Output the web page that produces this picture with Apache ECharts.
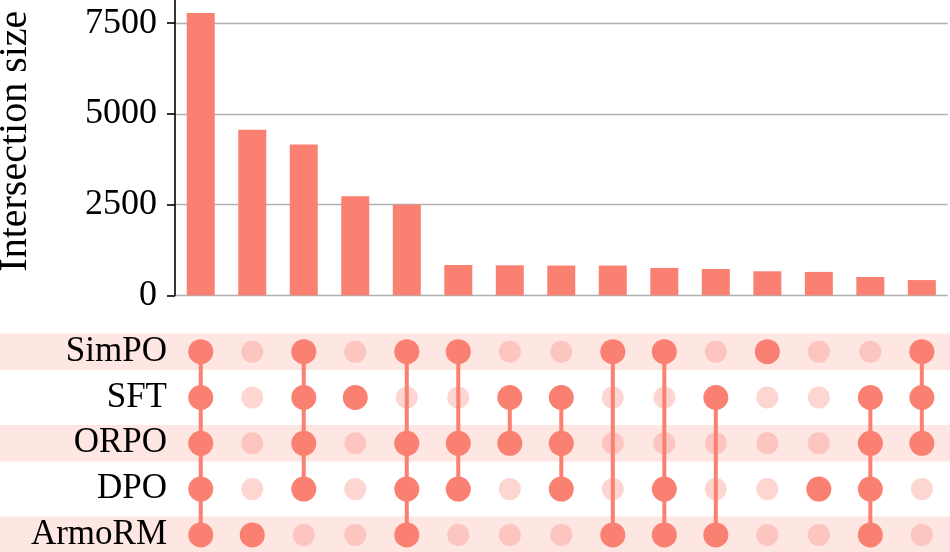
<!DOCTYPE html>
<html>
<head>
<meta charset="utf-8">
<script src="https://cdn.jsdelivr.net/npm/echarts@6/dist/echarts.min.js"></script>
<style>html,body{margin:0;padding:0;background:#fff}#c{width:950px;height:552px}</style>
</head>
<body>
<div id="c"></div>
<script>
// ---- data ----
const setNames = ['SimPO', 'SFT', 'ORPO', 'DPO', 'ArmoRM'];
const intersectionSizes = [7780, 4560, 4160, 2730, 2500, 835, 827, 820, 820, 755, 725, 662, 645, 505, 420];
const simpoMember  = [1,0,1,0,1,1,0,0,1,1,0,1,0,0,1];
const sftMember    = [1,0,1,1,0,0,1,1,0,0,1,0,0,1,1];
const orpoMember   = [1,0,1,0,1,1,1,1,0,0,0,0,0,1,1];
const dpoMember    = [1,0,1,0,1,1,0,1,0,1,0,0,1,1,0];
const armormMember = [1,1,0,0,1,0,0,0,1,1,1,0,0,1,0];
const yTickValues = [0, 2500, 5000, 7500];
const yAxisMax = 8140;

// ---- derived ----
const membership = [simpoMember, sftMember, orpoMember, dpoMember, armormMember];
const categories = intersectionSizes.map((_, i) => membership.map((m, r) => m[i] ? setNames[r] : '').filter(Boolean).join('&'));
const activePts = [], inactivePts = [], spans = [];
categories.forEach((c, i) => {
  let lo = null, hi = null;
  membership.forEach((m, r) => {
    if (m[i]) { activePts.push([c, setNames[r]]); if (lo === null) lo = r; hi = r; }
    else inactivePts.push([c, setNames[r]]);
  });
  spans.push([c, setNames[lo], setNames[hi]]);
});
const bandRows = setNames.filter((_, r) => r % 2 === 0).map(n => [categories[0], n]);

const SALMON = '#FA8072';
const FONT = 'Liberation Serif';
const chart = echarts.init(document.getElementById('c'), null, {renderer: 'canvas'});
chart.setOption({
  animation: false,
  backgroundColor: '#fff',
  grid: [
    {left: 175, right: 2.4, top: 0, height: 295.3, outerBoundsMode: 'none', containLabel: false},
    {left: 175, right: 2.4, top: 328.8, height: 229, outerBoundsMode: 'none', containLabel: false}
  ],
  xAxis: [
    {gridIndex: 0, type: 'category', data: categories, axisLine: {show: false}, axisTick: {show: false}, axisLabel: {show: false}},
    {gridIndex: 1, type: 'category', data: categories, axisLine: {show: false}, axisTick: {show: false}, axisLabel: {show: false}}
  ],
  yAxis: [
    {gridIndex: 0, type: 'value', min: 0, max: yAxisMax, interval: 2500,
     name: 'Intersection size', nameLocation: 'middle', nameRotate: 90, nameGap: 140,
     nameTextStyle: {fontFamily: FONT, fontSize: 40, color: '#000', padding: [0, 0, 0, 13]},
     axisLine: {show: true, lineStyle: {color: '#000', width: 1.6}},
     axisTick: {show: true, length: 8, lineStyle: {color: '#000', width: 1.6}},
     axisLabel: {fontFamily: FONT, fontSize: 36, color: '#000', margin: 18, showMaxLabel: false,
       formatter: v => yTickValues.includes(v) ? String(v) : ''},
     splitLine: {show: true, showMaxLine: false, lineStyle: {color: '#b0b0b0', width: 1.4}}
    },
    {gridIndex: 1, type: 'category', data: setNames, inverse: true, z: 10,
     axisLine: {show: false}, axisTick: {show: false},
     axisLabel: {fontFamily: FONT, fontSize: 35, color: '#000', margin: 8, interval: 0}
    }
  ],
  series: [
    {type: 'bar', xAxisIndex: 0, yAxisIndex: 0, data: intersectionSizes, barWidth: 28,
     itemStyle: {color: SALMON}, z: 3},
    {type: 'custom', xAxisIndex: 1, yAxisIndex: 1, data: bandRows, z: -1, clip: false, silent: true,
     renderItem: (params, api) => {
       const p = api.coord([api.value(0), api.value(1)]);
       return {type: 'rect', shape: {x: 0, y: p[1] - 18.3, width: api.getWidth(), height: 36.6},
         style: {fill: 'rgba(250,128,114,0.2)'}};
     },
     encode: {x: 0, y: 1}
    },
    {type: 'scatter', xAxisIndex: 1, yAxisIndex: 1, data: inactivePts, symbolSize: 22,
     itemStyle: {color: 'rgba(250,128,114,0.4)'}, z: 2},
    {type: 'custom', xAxisIndex: 1, yAxisIndex: 1, data: spans, z: 3,
     renderItem: (params, api) => {
       const a = api.coord([api.value(0), api.value(1)]);
       const b = api.coord([api.value(0), api.value(2)]);
       return {type: 'line', shape: {x1: a[0], y1: a[1], x2: b[0], y2: b[1]},
         style: {stroke: SALMON, lineWidth: 4}};
     },
     encode: {x: 0, y: [1, 2]}
    },
    {type: 'scatter', xAxisIndex: 1, yAxisIndex: 1, data: activePts, symbolSize: 25,
     itemStyle: {color: SALMON, opacity: 1}, z: 4}
  ]
});
</script>
</body>
</html>
